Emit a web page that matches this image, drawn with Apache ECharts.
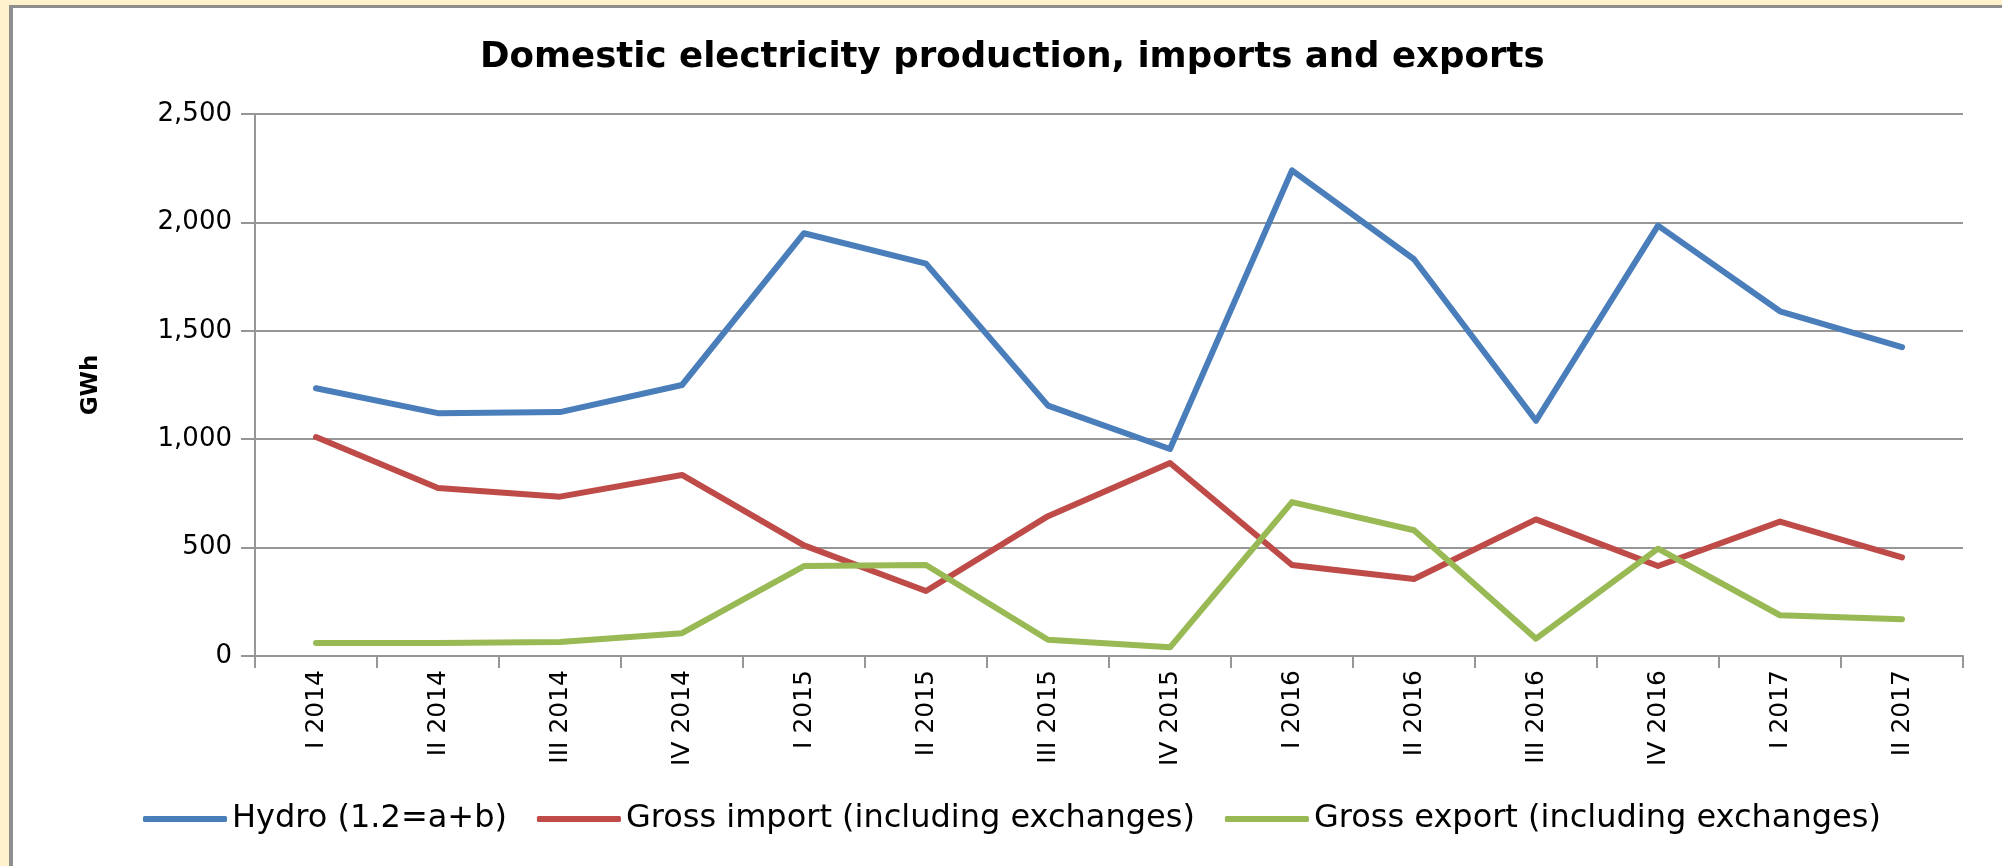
<!DOCTYPE html>
<html>
<head>
<meta charset="utf-8">
<script src="https://cdn.jsdelivr.net/npm/echarts@6/dist/echarts.min.js"></script>
<style>
  html, body { margin: 0; padding: 0; width: 2002px; height: 866px; overflow: hidden; background: #FFF2CC; }
  #frame { position: absolute; left: 9px; top: 5px; width: 2100px; height: 1000px; background: #ffffff; border-left: 4px solid #8e8e8e; border-top: 3px solid #8e8e8e; }
  #chart { position: absolute; left: 0; top: 0; width: 2002px; height: 866px; }
</style>
</head>
<body>
<div id="frame"></div>
<div id="chart"></div>
<script>
const categories = ['I 2014','II 2014','III 2014','IV 2014','I 2015','II 2015','III 2015','IV 2015','I 2016','II 2016','III 2016','IV 2016','I 2017','II 2017'];
const hydro  = [1235, 1120, 1125, 1250, 1950, 1810, 1155, 955, 2240, 1830, 1085, 1985, 1590, 1425];
const grossImport = [1010, 775, 735, 835, 510, 300, 645, 890, 420, 355, 630, 415, 620, 455];
const grossExport = [60, 60, 65, 105, 415, 420, 75, 40, 710, 580, 80, 495, 188, 170];
const seriesNames = ['Hydro (1.2=a+b)', 'Gross import (including exchanges)', 'Gross export (including exchanges)'];
const yTicks = [0, 500, 1000, 1500, 2000, 2500];

const chart = echarts.init(document.getElementById('chart'), null, { renderer: 'canvas' });
const font = 'DejaVu Sans';
const colors = ['#4A7EBB', '#BE4B48', '#98B954'];
const mk = (name, data, i) => ({
  name: name, type: 'line', data: data, symbol: 'none', smooth: false,
  lineStyle: { color: colors[i], width: 6, cap: 'round', join: 'round' },
  itemStyle: { color: colors[i] }
});
chart.setOption({
  backgroundColor: 'transparent',
  animation: false,
  title: {
    text: 'Domestic electricity production, imports and exports',
    left: 475, top: 35,
    textStyle: { fontFamily: font, fontSize: 35.6, fontWeight: 'bold', color: '#000' }
  },
  grid: { left: 255, right: 39, top: 114, bottom: 210, containLabel: false },
  legend: {
    left: 138, top: 798,
    icon: 'roundRect', itemWidth: 84, itemHeight: 6, itemGap: 30,
    textStyle: { fontFamily: font, fontSize: 32, color: '#000' },
    data: seriesNames
  },
  xAxis: {
    type: 'category', data: categories, boundaryGap: true,
    axisLine: { lineStyle: { color: '#969696', width: 2 } },
    axisTick: { show: true, length: 12, lineStyle: { color: '#969696', width: 2 } },
    axisLabel: { rotate: 90, margin: 14, fontFamily: font, fontSize: 25, color: '#000', interval: 0 }
  },
  yAxis: {
    type: 'value', min: yTicks[0], max: yTicks[yTicks.length - 1], interval: yTicks[1] - yTicks[0],
    name: 'GWh', nameLocation: 'middle', nameGap: 152,
    nameTextStyle: { fontFamily: font, fontSize: 23, fontWeight: 'bold', color: '#000' },
    axisLine: { show: true, lineStyle: { color: '#969696', width: 2 } },
    axisTick: { show: true, length: 14, lineStyle: { color: '#969696', width: 2 } },
    splitLine: { lineStyle: { color: '#969696', width: 2 } },
    axisLabel: { margin: 23, fontFamily: font, fontSize: 26, color: '#000',
      formatter: v => v.toLocaleString('en-US') }
  },
  series: [mk(seriesNames[0], hydro, 0), mk(seriesNames[1], grossImport, 1), mk(seriesNames[2], grossExport, 2)]
});
</script>
</body>
</html>
